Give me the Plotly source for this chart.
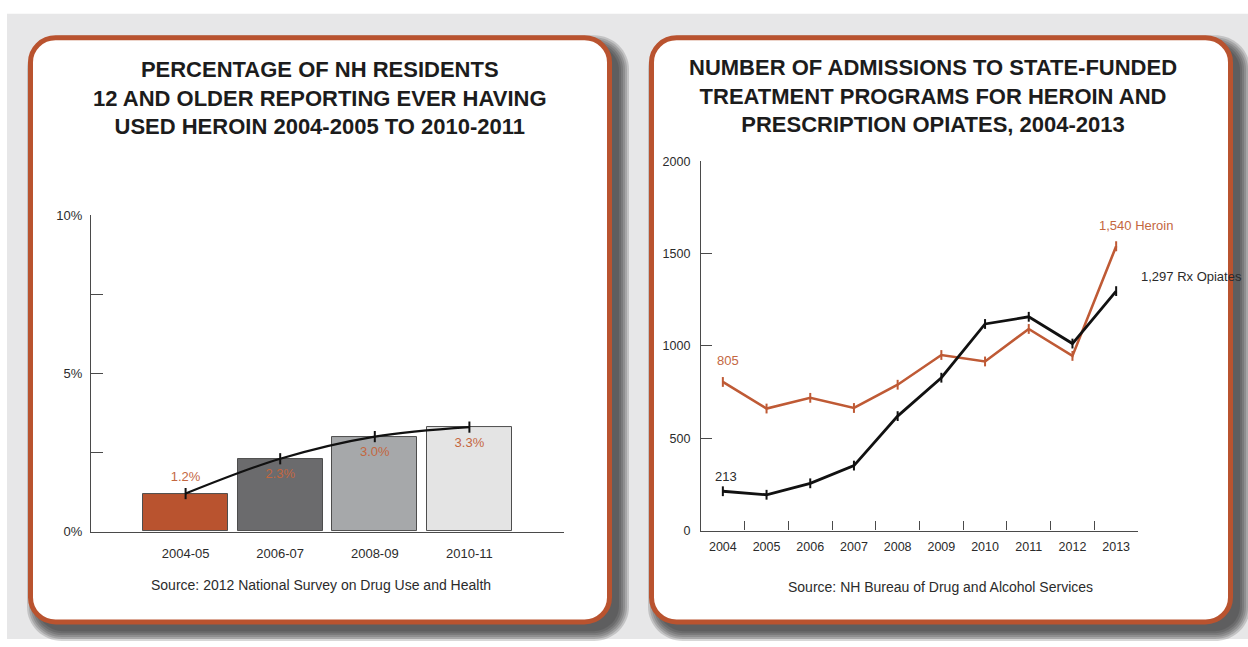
import plotly.graph_objects as go

# ---- data -------------------------------------------------------------
periods = ["2004-05", "2006-07", "2008-09", "2010-11"]
pct_ever_heroin = [1.2, 2.3, 3.0, 3.3]
pct_labels = ["1.2%", "2.3%", "3.0%", "3.3%"]

years = ["2004", "2005", "2006", "2007", "2008", "2009", "2010", "2011", "2012", "2013"]
heroin_admissions = [805, 661, 719, 664, 790, 951, 916, 1092, 946, 1540]
rx_opiate_admissions = [213, 194, 256, 352, 620, 828, 1119, 1158, 1013, 1297]

# ---- canvas -----------------------------------------------------------
W, H = 1248, 647
FONT = "Liberation Sans, Arial, sans-serif"
RUST = "#b9532f"
RUST_TEXT = "#c4673f"
AXIS = "#4a4a4a"
TEXT = "#2b2b2b"


def px(x):
    return x / W


def py(y):
    return 1 - y / H


def rounded_rect(x0, y0, x1, y1, r):
    k = 0.5523 * r
    pts = [
        ("M", [(x0 + r, y0)]),
        ("L", [(x1 - r, y0)]),
        ("C", [(x1 - r + k, y0), (x1, y0 + r - k), (x1, y0 + r)]),
        ("L", [(x1, y1 - r)]),
        ("C", [(x1, y1 - r + k), (x1 - r + k, y1), (x1 - r, y1)]),
        ("L", [(x0 + r, y1)]),
        ("C", [(x0 + r - k, y1), (x0, y1 - r + k), (x0, y1 - r)]),
        ("L", [(x0, y0 + r)]),
        ("C", [(x0, y0 + r - k), (x0 + r - k, y0), (x0 + r, y0)]),
    ]
    out = []
    for cmd, coords in pts:
        out.append(cmd + " ".join(f"{px(a):.5f},{py(b):.5f}" for a, b in coords))
    return " ".join(out) + " Z"


shapes = [
    dict(type="rect", xref="paper", yref="paper", x0=px(7), x1=1, y0=0, y1=py(7),
         fillcolor="#e7e7e8", line=dict(width=0), layer="below"),
]

panels = [(28, 29, 612, 632), (649, 29, 1233, 632)]
for (x0, y0, x1, y1) in panels:
    # soft drop shadow, built from stacked translucent layers
    for e in [9, 7, 5, 3, 1, -1]:
        shapes.append(dict(
            type="path", xref="paper", yref="paper", layer="below",
            path=rounded_rect(x0 + 8 - e, y0 + 9 - e, x1 + 8 + e, y1 + 8 + e, 26 + max(e, 0)),
            fillcolor="rgba(40,40,40,0.19)", line=dict(width=0)))
for (x0, y0, x1, y1) in panels:
    shapes.append(dict(
        type="path", xref="paper", yref="paper", layer="below",
        path=rounded_rect(x0 + 2.5, y0 + 2.5, x1 - 2.5, y1 - 2.5, 25),
        fillcolor="white", line=dict(color=RUST, width=5)))

fig = go.Figure()

# ---- left: survey percentages -----------------------------------------
fig.add_trace(go.Bar(
    x=periods, y=pct_ever_heroin, width=0.9,
    marker=dict(color=[RUST, "#6b6b6d", "#a6a8aa", "#e4e4e4"],
                line=dict(color="#4d4d4d", width=1)),
    xaxis="x", yaxis="y", showlegend=False, hoverinfo="skip"))
# value labels sit under the trend line
fig.add_trace(go.Scatter(
    x=periods, y=pct_ever_heroin, mode="markers+text", text=pct_labels,
    textposition=["top center", "bottom center", "bottom center", "bottom center"],
    marker=dict(size=14, opacity=0), cliponaxis=False,
    textfont=dict(family=FONT, size=13, color=RUST_TEXT),
    xaxis="x", yaxis="y", showlegend=False, hoverinfo="skip"))
fig.add_trace(go.Scatter(
    x=periods, y=pct_ever_heroin, mode="lines+markers",
    line=dict(color="#111111", width=2.2, shape="spline", smoothing=1),
    marker=dict(symbol="line-ns", size=8, line=dict(color="#111111", width=2)),
    xaxis="x", yaxis="y", showlegend=False, hoverinfo="skip"))
# helper subplot carrying the extra axis ticks
fig.add_trace(go.Scatter(x=[None], y=[None], xaxis="x3", yaxis="y3",
                         showlegend=False, hoverinfo="skip"))

# ---- right: treatment admissions --------------------------------------
fig.add_trace(go.Scatter(
    x=years, y=heroin_admissions, mode="lines+markers",
    line=dict(color="#bf5a35", width=2.6),
    marker=dict(symbol="line-ns", size=7, line=dict(color="#bf5a35", width=2)),
    xaxis="x2", yaxis="y2", showlegend=False, hoverinfo="skip"))
fig.add_trace(go.Scatter(
    x=years, y=rx_opiate_admissions, mode="lines+markers",
    line=dict(color="#111111", width=2.8),
    marker=dict(symbol="line-ns", size=7, line=dict(color="#111111", width=2)),
    xaxis="x2", yaxis="y2", showlegend=False, hoverinfo="skip"))

tickfont_l = dict(family=FONT, size=13, color=TEXT)
tickfont_r = dict(family=FONT, size=12.5, color=TEXT)

left_x = [px(91), px(564)]
left_y = [py(537), py(213)]
right_x = [px(701), px(1138)]
right_y = [py(536), py(158)]

fig.update_layout(
    width=W, height=H, margin=dict(l=0, r=0, t=0, b=0),
    paper_bgcolor="white", plot_bgcolor="rgba(0,0,0,0)",
    shapes=shapes, bargap=0,
    xaxis=dict(domain=left_x, anchor="y", type="category", range=[-1, 4],
               showline=True, linecolor=AXIS, linewidth=1.3, ticks="",
               showgrid=False, zeroline=False, tickfont=tickfont_l,
               ticklabelstandoff=10, fixedrange=True),
    yaxis=dict(domain=left_y, anchor="x", range=[0, 10],
               tickvals=[0, 5, 10], ticktext=["0%", "5%", "10%"], ticks="",
               showline=True, linecolor=AXIS, linewidth=1.3, showgrid=False,
               zeroline=False, tickfont=tickfont_l, ticklabelstandoff=5,
               fixedrange=True),
    xaxis3=dict(domain=left_x, anchor="y3", overlaying="x", range=[-1, 4],
                tickvals=[4], ticks="inside", ticklen=15, tickwidth=1.3,
                tickcolor=AXIS, showticklabels=False, showline=False,
                showgrid=False, zeroline=False, fixedrange=True),
    yaxis3=dict(domain=left_y, anchor="x3", overlaying="y", range=[0, 10],
                tickvals=[2.5, 5, 7.5], ticks="inside", ticklen=12, tickwidth=1.3,
                tickcolor=AXIS, showticklabels=False, showline=False,
                showgrid=False, zeroline=False, fixedrange=True),
    xaxis2=dict(domain=right_x, anchor="y2", type="category", range=[-0.5, 9.5],
                tickson="boundaries", ticks="inside", ticklen=9, tickwidth=1.3,
                tickcolor=AXIS, showline=True, linecolor=AXIS, linewidth=1.3,
                showgrid=False, zeroline=False, tickfont=tickfont_r,
                ticklabelstandoff=4, fixedrange=True),
    yaxis2=dict(domain=right_y, anchor="x2", range=[0, 2000],
                tickvals=[0, 500, 1000, 1500, 2000], ticks="inside", ticklen=11,
                tickwidth=1.3, tickcolor=AXIS, showline=True, linecolor=AXIS,
                linewidth=1.3, showgrid=False, zeroline=False,
                tickfont=tickfont_r, ticklabelstandoff=7, fixedrange=True),
)

title_font = dict(family=FONT, size=22, color="#1c1c1c", weight="bold")
first, last = 0, len(years) - 1
annotations = [
    dict(xref="paper", yref="paper", x=px(320), y=py(93.5), xanchor="center",
         yanchor="middle", showarrow=False, font=title_font,
         text="PERCENTAGE OF NH RESIDENTS<br>12 AND OLDER REPORTING EVER HAVING"
              "<br>USED HEROIN 2004-2005 TO 2010-2011"),
    dict(xref="paper", yref="paper", x=px(933), y=py(91.5), xanchor="center",
         yanchor="middle", showarrow=False, font=title_font,
         text="NUMBER OF ADMISSIONS TO STATE-FUNDED<br>TREATMENT PROGRAMS FOR HEROIN AND"
              "<br>PRESCRIPTION OPIATES, 2004-2013"),
    dict(xref="paper", yref="paper", x=px(321), y=py(592), xanchor="center",
         yanchor="middle", showarrow=False,
         font=dict(family=FONT, size=14, color=TEXT),
         text="Source: 2012 National Survey on Drug Use and Health"),
    dict(xref="paper", yref="paper", x=px(940), y=py(594), xanchor="center",
         yanchor="middle", showarrow=False,
         font=dict(family=FONT, size=14, color=TEXT),
         text="Source: NH Bureau of Drug and Alcohol Services"),
    # end-point labels on the admissions chart
    dict(xref="x2", yref="y2", x=first, y=heroin_admissions[first],
         text=f"{heroin_admissions[first]:,}", showarrow=False, xshift=5, yshift=21,
         font=dict(family=FONT, size=13, color=RUST_TEXT)),
    dict(xref="x2", yref="y2", x=first, y=rx_opiate_admissions[first],
         text=f"{rx_opiate_admissions[first]:,}", showarrow=False, xshift=3, yshift=15,
         font=dict(family=FONT, size=13, color=TEXT)),
    dict(xref="x2", yref="y2", x=last, y=heroin_admissions[last],
         text=f"{heroin_admissions[last]:,} Heroin", showarrow=False, xanchor="left",
         xshift=-19, yshift=21, font=dict(family=FONT, size=13, color=RUST_TEXT)),
    dict(xref="x2", yref="y2", x=last, y=rx_opiate_admissions[last],
         text=f"{rx_opiate_admissions[last]:,} Rx Opiates", showarrow=False, xanchor="left",
         xshift=23, yshift=15, font=dict(family=FONT, size=13, color=TEXT)),
]
fig.update_layout(annotations=annotations)

fig.write_html("out.html")
